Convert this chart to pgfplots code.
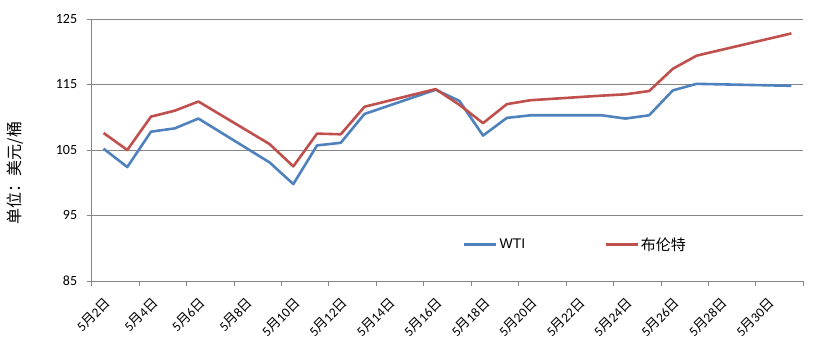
\documentclass[border=0pt]{standalone}
\usepackage{fontspec}
\usepackage{pgfplots}
\pgfplotsset{compat=1.18}
\setmainfont{Carlito}
\newfontfamily\cjk{Noto Sans CJK SC}
\newfontfamily\arial{Liberation Sans}
\definecolor{wti}{HTML}{4F81BD}
\definecolor{brent}{HTML}{C0504D}
\definecolor{gridc}{HTML}{868686}
\newcommand{\dl}[1]{5{\cjk 月}#1{\cjk 日}}
\begin{document}
\begin{tikzpicture}
\path[use as bounding box] (-91.7bp,-74bp) rectangle (730.3bp,281bp);
\begin{axis}[
  at={(0,0)}, anchor=south west,
  scale only axis, width=711.6bp, height=262bp,
  xmin=1.5, xmax=31.5, ymin=85, ymax=125,
  axis x line*=bottom, axis y line*=left,
  axis line style={gridc, line width=0.9bp},
  ytick={85,95,105,115,125},
  xtick={1.5,3.5,...,31.5},
  xticklabels={\dl{2},\dl{4},\dl{6},\dl{8},\dl{10},\dl{12},\dl{14},\dl{16},\dl{18},\dl{20},\dl{22},\dl{24},\dl{26},\dl{28},\dl{30},{}},
  tick align=outside, major tick length=5bp,
  tick style={gridc, line width=0.9bp},
  ymajorgrids, grid style={gridc, line width=0.9bp},
  /pgf/number format/assume math mode=true,
  yticklabel style={font=\fontsize{14bp}{16bp}\selectfont, xshift=-6bp},
  xticklabel style={font=\fontsize{13.5bp}{16bp}\selectfont, xshift=12bp, yshift=-10bp, rotate=45, anchor=north east, inner sep=0pt},
  ylabel={\cjk 单位：美元/桶},
  ylabel style={font=\fontsize{16bp}{18bp}\selectfont, at={(axis description cs:-0.1078,0.412)}, anchor=center},
  legend columns=2,
  legend style={draw=none, fill=none, at={(rel axis cs:0.5215,0.1385)}, anchor=west,
    font=\fontsize{15bp}{17bp}\selectfont, inner sep=0pt,
    /tikz/every even column/.append style={column sep=77bp}},
  legend image code/.code={\draw[#1] (0bp,0bp) -- (32bp,0bp);},
  every axis plot/.append style={line width=2.6bp, line join=round},
]
\addplot[wti] coordinates {
(2,105.2) (3,102.4) (4,107.8) (5,108.3) (6,109.8) (9,103.1) (10,99.8) (11,105.7) (12,106.1) (13,110.5)
(16,114.2) (17,112.5) (18,107.2) (19,109.9) (20,110.3) (23,110.3) (24,109.8) (25,110.3) (26,114.1) (27,115.1) (31,114.8)
};
\addlegendentry{\fontsize{14bp}{16bp}\selectfont\arial WTI}
\addplot[brent] coordinates {
(2,107.6) (3,105.0) (4,110.1) (5,111.0) (6,112.4) (9,105.9) (10,102.5) (11,107.5) (12,107.4) (13,111.6)
(16,114.3) (17,111.9) (18,109.1) (19,112.0) (20,112.6) (23,113.3) (24,113.5) (25,114.0) (26,117.4) (27,119.4) (31,122.8)
};
\addlegendentry{\cjk 布伦特}
\end{axis}
\end{tikzpicture}
\end{document}
